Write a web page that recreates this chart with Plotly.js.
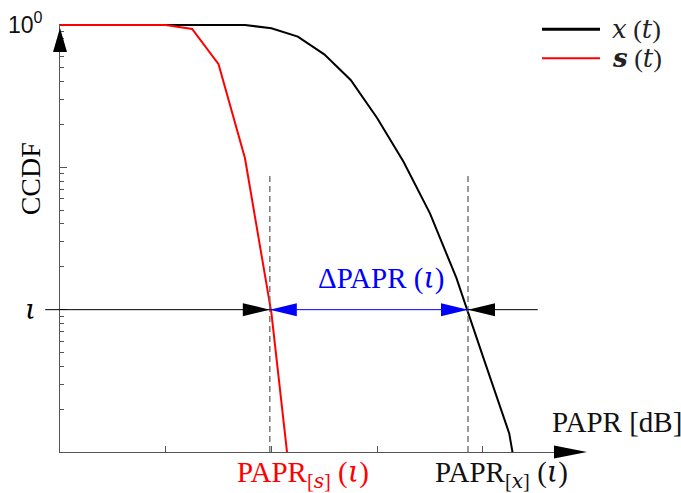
<!DOCTYPE html>
<html>
<head>
<meta charset="utf-8">
<title>CCDF of PAPR</title>
<script src="https://cdn.plot.ly/plotly-3.0.1.min.js"></script>
<style>
  html, body { margin: 0; padding: 0; background: #fff; }
  #chart { width: 681px; height: 493px; }
</style>
</head>
<body>
<div id="chart"></div>
<script>
// PAPR axis in dB, CCDF
const papr = [0, 0.5, 1, 1.5, 2, 2.5, 3, 3.5, 4, 4.5, 5, 5.5, 6, 6.5, 7, 7.5, 8, 8.5, 9];
const ccdfX = [1, 1, 1, 1, 1, 1, 1, 1, 0.948, 0.828, 0.622, 0.411, 0.222, 0.1095, 0.0475, 0.0167, 0.00472, 0.00135, 0.000117];
const paprS = [0, 0.5, 1, 1.5, 2, 2.5, 3, 3.5, 4, 4.5];
const ccdfS = [1, 1, 1, 1, 1, 0.937, 0.53, 0.1157, 0.0095, 0.00021];

// italic bits in a serif face that has an italic cut
const it = s => '<span style="font-family:DejaVu Serif;font-style:italic">' + s + '</span>';

const seriesNames = [it('x') + ' (' + it('t') + ')', '<b>' + it('s') + '</b> (' + it('t') + ')'];
const seriesColors = ['#000000', '#ff0000'];

// level iota and the PAPR values where each curve crosses it
const iota = 0.01;
const paprAtIotaS = 3.97;
const paprAtIotaX = 7.72;
const dashTop = 0.091;
const iotaLineFrom = -0.28, iotaLineTo = 9.04;

const xTickVals = [2, 4, 6, 8];
const yTickVals = [1, 0.01];
const yTickLabels = ['10<sup>0</sup>', it('ι')];
const yMinor = [];
[1, 0.1, 0.01].forEach(d => [2, 3, 4, 5, 6, 7, 8, 9].forEach(k => yMinor.push(d * k / 10)));

const xRange = [0, 9.366];
const yRange = [-3, 0.007];
const xp = v => (v - xRange[0]) / (xRange[1] - xRange[0]);
const yp = v => (Math.log10(v) - yRange[0]) / (yRange[1] - yRange[0]);

const serif = 'Liberation Serif, Times New Roman, serif';
const axisGray = '#555';

const traces = [
  { x: papr, y: ccdfX, mode: 'lines', line: { color: seriesColors[0], width: 2 }, name: 'x(t)', showlegend: false },
  { x: paprS, y: ccdfS, mode: 'lines', line: { color: seriesColors[1], width: 2 }, name: 's(t)', showlegend: false }
];

// filled arrow head anchored at a point, sized in pixels
function head(xa, ya, path, color) {
  return { type: 'path', xref: 'paper', yref: 'paper', xsizemode: 'pixel', ysizemode: 'pixel',
    xanchor: xa, yanchor: ya, path: path, fillcolor: color, line: { width: 0 }, layer: 'above' };
}
const right = 'M -27 6.5 L 0 0 L -27 -6.5 Z';
const left = 'M 27 6.5 L 0 0 L 27 -6.5 Z';

const shapes = [
  // dashed guides at the two PAPR values
  ...[paprAtIotaS, paprAtIotaX].map(v => ({ type: 'line', xref: 'paper', yref: 'paper', x0: xp(v), x1: xp(v),
    y0: 0, y1: yp(dashTop), line: { color: '#666', width: 1.3, dash: '6px,4px' } })),
  // iota level line
  { type: 'line', xref: 'paper', yref: 'paper', x0: xp(iotaLineFrom), x1: xp(paprAtIotaS), y0: yp(iota), y1: yp(iota), line: { color: '#000', width: 1 } },
  { type: 'line', xref: 'paper', yref: 'paper', x0: xp(paprAtIotaS), x1: xp(paprAtIotaX), y0: yp(iota), y1: yp(iota), line: { color: '#0000ff', width: 1 } },
  { type: 'line', xref: 'paper', yref: 'paper', x0: xp(paprAtIotaX), x1: xp(iotaLineTo), y0: yp(iota), y1: yp(iota), line: { color: '#000', width: 1 } },
  head(xp(paprAtIotaS), yp(iota), right, '#000'),
  head(xp(paprAtIotaS), yp(iota), left, '#0000ff'),
  head(xp(paprAtIotaX), yp(iota), right, '#0000ff'),
  head(xp(paprAtIotaX), yp(iota), left, '#000'),
  // axis arrows
  head(0, yp(1), 'M -7 -27 L 0 -3 L 7 -27 Z', '#000'),
  head(1, 0, 'M -1 6.5 L 32 0 L -1 -6.5 Z', '#000'),
  // legend samples
  ...seriesColors.map((c, i) => ({ type: 'line', xref: 'paper', yref: 'paper',
    x0: 0.9737, x1: 1.0909, y0: 0.988 - i * 0.068, y1: 0.988 - i * 0.068,
    line: { color: c, width: i === 0 ? 3 : 2 } }))
];

const annotations = [
  { xref: 'paper', yref: 'paper', x: -0.0303, y: yp(yTickVals[0]), xanchor: 'right', yanchor: 'middle', yshift: 2,
    text: yTickLabels[0], showarrow: false, font: { family: 'Liberation Sans, Arial, sans-serif', size: 23, color: '#111' } },
  { xref: 'paper', yref: 'paper', x: -0.0606, y: yp(yTickVals[1]), xanchor: 'center', yanchor: 'middle',
    text: yTickLabels[1], showarrow: false, font: { family: serif, size: 28, color: '#000' } },
  { xref: 'paper', yref: 'paper', x: -0.0606, y: 0.637, textangle: -90, xanchor: 'center', yanchor: 'middle',
    text: 'CCDF', showarrow: false, font: { family: serif, size: 28, color: '#000' } },
  { xref: 'paper', yref: 'paper', x: 0.99, y: 0.07, xanchor: 'left', yanchor: 'middle',
    text: 'PAPR [dB]', showarrow: false, font: { family: serif, size: 29, color: '#111' } },
  { xref: 'paper', yref: 'paper', x: 0.6475, y: 0.4075, xanchor: 'center', yanchor: 'middle',
    text: 'ΔPAPR (' + it('ι') + ')', showarrow: false, font: { family: serif, size: 29, color: '#0000ff' } },
  { xref: 'paper', yref: 'paper', x: 0.49, y: -0.052, xanchor: 'center', yanchor: 'middle',
    text: 'PAPR<sub>[' + it('s') + ']</sub> (' + it('ι') + ')', showarrow: false, font: { family: serif, size: 29, color: '#ff0000' } },
  { xref: 'paper', yref: 'paper', x: 0.892, y: -0.052, xanchor: 'center', yanchor: 'middle',
    text: 'PAPR<sub>[' + it('x') + ']</sub> (' + it('ι') + ')', showarrow: false, font: { family: serif, size: 29, color: '#111' } },
  ...seriesNames.map((n, i) => ({ xref: 'paper', yref: 'paper', x: 1.111, y: 0.988 - i * 0.068,
    xanchor: 'left', yanchor: 'middle', text: n, showarrow: false, font: { family: serif, size: 26, color: '#222' } }))
];

const layout = {
  width: 681, height: 493,
  margin: { l: 60, r: 126, t: 24, b: 41 },
  paper_bgcolor: '#fff', plot_bgcolor: '#fff',
  showlegend: false,
  xaxis: {
    range: xRange, showgrid: false, zeroline: false, showline: true, linecolor: axisGray, linewidth: 1.3,
    ticks: 'inside', tickvals: xTickVals, ticklen: 6, tickcolor: axisGray, tickwidth: 1.2, showticklabels: false
  },
  yaxis: {
    type: 'log', range: yRange, showgrid: false, zeroline: false, showline: true, linecolor: axisGray, linewidth: 1.3,
    ticks: 'inside', tickvals: [0.1, 0.01], ticklen: 7, tickcolor: axisGray, tickwidth: 1.2, showticklabels: false,
    minor: { tickmode: 'array', tickvals: yMinor, ticks: 'inside', ticklen: 4, tickcolor: axisGray, tickwidth: 1 }
  },
  shapes: shapes,
  annotations: annotations
};

Plotly.newPlot('chart', traces, layout, { staticPlot: true, displayModeBar: false });
</script>
</body>
</html>
